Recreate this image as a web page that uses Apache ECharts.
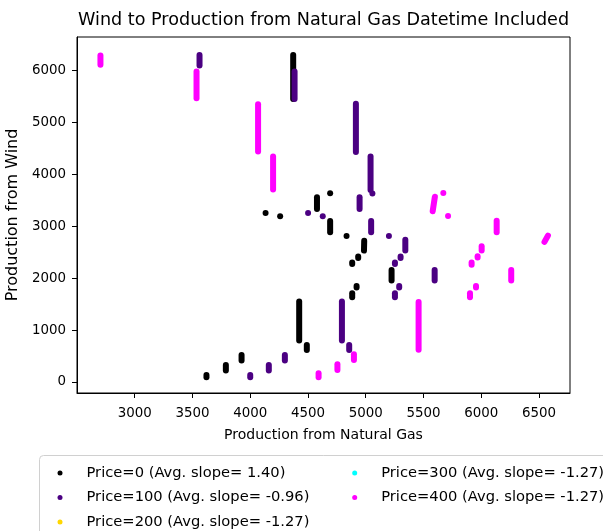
<!DOCTYPE html>
<html>
<head>
<meta charset="utf-8">
<title>Wind to Production from Natural Gas</title>
<script src="https://cdn.jsdelivr.net/npm/echarts@6/dist/echarts.min.js"></script>
<style>
  html, body { margin: 0; padding: 0; background: #fff; }
  #chart { width: 603px; height: 531px; }
</style>
</head>
<body>
<div id="chart"></div>
<script>
// Tick values on each axis
const gasTicks = [3000, 3500, 4000, 4500, 5000, 5500, 6000, 6500];
const windTicks = [0, 1000, 2000, 3000, 4000, 5000, 6000];

// Series names and colours
const seriesNames = [
  'Price=0 (Avg. slope= 1.40)',
  'Price=100 (Avg. slope= -0.96)',
  'Price=200 (Avg. slope= -1.27)',
  'Price=300 (Avg. slope= -1.27)',
  'Price=400 (Avg. slope= -1.27)'
];
const seriesColors = ['#000000', '#4b0082', '#ffd700', '#00ffff', '#ff00ff'];

// Each run of hourly observations: [gasStart, windStart, gasEnd, windEnd]
// (a single observation has start == end)
const price0 = [
  [4372, 6300, 4372, 5453],
  [4133, 3256, 4133, 3256],
  [4259, 3193, 4259, 3193],
  [4692, 3636, 4692, 3636],
  [4578, 3560, 4578, 3333],
  [4692, 3102, 4692, 2884],
  [4834, 2813, 4834, 2813],
  [4987, 2720, 4985, 2532],
  [4935, 2416, 4935, 2389],
  [4883, 2300, 4883, 2274],
  [5224, 2158, 5224, 1954],
  [4921, 1850, 4921, 1820],
  [4883, 1709, 4883, 1632],
  [4424, 1549, 4424, 798],
  [4490, 713, 4490, 617],
  [3925, 520, 3925, 412],
  [3789, 328, 3789, 220],
  [3621, 135, 3621, 91]
];
const price100 = [
  [3561, 6300, 3561, 6096],
  [4384, 5981, 4384, 5453],
  [4915, 5360, 4915, 4430],
  [5042, 4343, 5042, 3700],
  [5058, 3630, 5058, 3630],
  [4501, 3256, 4501, 3256],
  [4628, 3193, 4628, 3193],
  [4947, 3559, 4947, 3333],
  [5047, 3102, 5047, 2884],
  [5201, 2813, 5201, 2813],
  [5343, 2740, 5343, 2532],
  [5302, 2416, 5302, 2389],
  [5253, 2300, 5253, 2274],
  [5597, 2158, 5597, 1954],
  [5290, 1850, 5290, 1820],
  [5253, 1709, 5253, 1632],
  [4794, 1549, 4794, 798],
  [4857, 713, 4857, 617],
  [4300, 520, 4300, 412],
  [4161, 328, 4161, 220],
  [4000, 135, 4000, 91]
];
const price200 = [];
const price300 = [];
const price400 = [
  [2703, 6290, 2703, 6110],
  [3535, 5981, 3535, 5466],
  [4068, 5351, 4068, 4439],
  [4198, 4343, 4198, 3707],
  [5599, 3570, 5580, 3290],
  [5672, 3642, 5672, 3642],
  [5713, 3198, 5713, 3198],
  [6134, 3105, 6134, 2884],
  [6578, 2820, 6548, 2700],
  [6004, 2615, 6004, 2532],
  [5969, 2425, 5969, 2400],
  [5917, 2300, 5917, 2260],
  [6260, 2158, 6260, 1954],
  [5955, 1850, 5955, 1820],
  [5903, 1709, 5903, 1632],
  [5458, 1540, 5458, 620],
  [4898, 534, 4898, 424],
  [4755, 341, 4755, 231],
  [4592, 168, 4592, 91]
];
const seriesData = [price0, price100, price200, price300, price400];

const FONT = 'DejaVu Sans';
const MARK = 6; // marker diameter in px

// Draws one run as a round-capped stroke, or a dot for a single observation
function renderRun(params, api) {
  const a = api.coord([api.value(0), api.value(1)]);
  const b = api.coord([api.value(2), api.value(3)]);
  const color = api.visual('color');
  if (Math.abs(a[0] - b[0]) < 0.01 && Math.abs(a[1] - b[1]) < 0.01) {
    return { type: 'circle', shape: { cx: a[0], cy: a[1], r: MARK / 2 }, style: { fill: color } };
  }
  return {
    type: 'line',
    shape: { x1: a[0], y1: a[1], x2: b[0], y2: b[1] },
    style: { stroke: color, lineWidth: MARK, lineCap: 'round', fill: null }
  };
}

const plainNumber = v => String(v);

const chart = echarts.init(document.getElementById('chart'), null, { renderer: 'canvas' });

const legendText = { fontFamily: FONT, fontSize: 14.7, color: '#000', lineHeight: 16, padding: [0, 0, 0, 19] };

chart.setOption({
  animation: false,
  backgroundColor: '#fff',
  title: {
    text: 'Wind to Production from Natural Gas Datetime Included',
    left: 78,
    top: 11,
    padding: 0,
    textStyle: { fontFamily: FONT, fontSize: 17.6, fontWeight: 'normal', color: '#000' }
  },
  grid: {
    left: 77, right: 33, top: 37, bottom: 138,
    show: true, borderColor: '#000', borderWidth: 1,
    outerBoundsMode: 'none'
  },
  xAxis: {
    type: 'value',
    min: 2500, max: 6769,
    name: 'Production from Natural Gas',
    nameLocation: 'middle',
    nameGap: 35,
    nameTextStyle: { fontFamily: FONT, fontSize: 14, color: '#000' },
    axisLine: { show: true, onZero: false, lineStyle: { color: '#000', width: 1 } },
    axisTick: { show: true, length: 5, customValues: gasTicks, lineStyle: { color: '#000' } },
    axisLabel: { customValues: gasTicks, formatter: plainNumber, fontFamily: FONT, fontSize: 13.4, color: '#000', margin: 14 },
    splitLine: { show: false }
  },
  yAxis: {
    type: 'value',
    min: -212, max: 6647,
    name: 'Production from Wind',
    nameLocation: 'middle',
    nameGap: 53,
    nameTextStyle: { fontFamily: FONT, fontSize: 16, color: '#000' },
    axisLine: { show: true, onZero: false, lineStyle: { color: '#000', width: 1 } },
    axisTick: { show: true, length: 5, customValues: windTicks, lineStyle: { color: '#000' } },
    axisLabel: { customValues: windTicks, formatter: plainNumber, fontFamily: FONT, fontSize: 13.4, color: '#000', margin: 11 },
    splitLine: { show: false }
  },
  graphic: [{
    type: 'rect',
    shape: { x: 39.5, y: 455.5, width: 620, height: 120, r: 4 },
    style: { fill: '#fff', stroke: '#d0d0d0', lineWidth: 1 },
    z: 0
  }],
  legend: [
    {
      data: seriesNames.slice(0, 3),
      orient: 'vertical',
      left: 57.5, top: 465,
      padding: 0, itemGap: 8.5,
      icon: 'circle', itemWidth: 5, itemHeight: 5,
      textStyle: legendText,
      selectedMode: false
    },
    {
      data: seriesNames.slice(3),
      orient: 'vertical',
      left: 352.2, top: 465,
      padding: 0, itemGap: 8.5,
      icon: 'circle', itemWidth: 5, itemHeight: 5,
      textStyle: legendText,
      selectedMode: false
    }
  ],
  series: seriesNames.map((name, i) => ({
    type: 'custom',
    name: name,
    data: seriesData[i],
    encode: { x: [0, 2], y: [1, 3] },
    itemStyle: { color: seriesColors[i] },
    renderItem: renderRun,
    clip: true
  }))
});
</script>
</body>
</html>
